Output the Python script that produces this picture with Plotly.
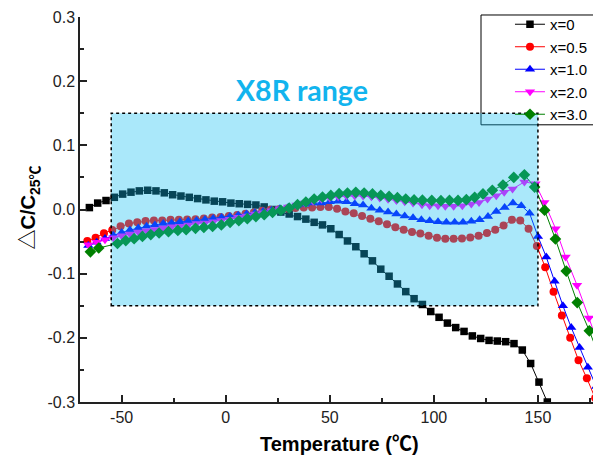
import plotly.graph_objects as go

# ---------------- data ----------------
temp_x0 = [-65.5, -61.5, -57.5, -53.5, -49.5, -45.5, -41.5, -37.5, -33.5, -29.5,
           -25.5, -21.5, -17.5, -13.5, -9.5, -5.5, -1.5, 2.5, 6.5, 10.5,
           14.5, 18.5, 22.5, 26.5, 30.5, 34.5, 38.5, 42.5, 46.5, 50.5,
           54.5, 58.5, 62.5, 66.5, 70.5, 74.5, 78.5, 82.5, 86.5, 90.5,
           94.5, 98.5, 102.5, 106.5, 110.5, 114.5, 118.5, 122.5, 126.5, 130.5,
           134.5, 138.5, 142.5, 146.5, 150.5, 154.5]
dc_x0 = [0.003, 0.010, 0.014, 0.019, 0.024, 0.027, 0.029, 0.030, 0.029, 0.026,
         0.023, 0.021, 0.019, 0.017, 0.015, 0.013, 0.012, 0.010, 0.009, 0.008,
         0.007, 0.004, 0.000, -0.004, -0.007, -0.011, -0.015, -0.020, -0.024, -0.030,
         -0.039, -0.049, -0.058, -0.069, -0.080, -0.093, -0.104, -0.116, -0.128, -0.139,
         -0.148, -0.159, -0.168, -0.177, -0.184, -0.190, -0.197, -0.201, -0.204, -0.205,
         -0.206, -0.209, -0.219, -0.240, -0.269, -0.300]

temp_x05 = [-66.5, -62.5, -58.5, -54.5, -50.5, -46.5, -42.5, -38.5, -34.5, -30.5,
            -26.5, -22.5, -18.5, -14.5, -10.5, -6.5, -2.5, 1.5, 5.5, 9.5,
            13.5, 17.5, 21.5, 25.5, 29.5, 33.5, 37.5, 41.5, 45.5, 49.5,
            53.5, 57.5, 61.5, 65.5, 69.5, 73.5, 77.5, 81.5, 85.5, 89.5,
            93.5, 97.5, 101.5, 105.5, 109.5, 113.5, 117.5, 121.5, 125.5, 129.5,
            133.5, 137.5, 141.5, 145.5, 149.5, 153.5, 157.5, 161.5, 165.5, 169.5,
            173.5, 177.5]
dc_x05 = [-0.049, -0.044, -0.037, -0.032, -0.026, -0.022, -0.020, -0.018, -0.017, -0.017,
          -0.016, -0.016, -0.0155, -0.015, -0.014, -0.0125, -0.0115, -0.010, -0.0085, -0.0065,
          -0.0045, -0.002, -0.0005, 0.0005, 0.0015, 0.0025, 0.003, 0.003, 0.004, 0.004,
          0.001, -0.003, -0.006, -0.010, -0.0145, -0.0185, -0.023, -0.0275, -0.0315, -0.035,
          -0.0375, -0.041, -0.044, -0.0455, -0.0455, -0.045, -0.0435, -0.041, -0.0366, -0.0315,
          -0.025, -0.016, -0.017, -0.030, -0.057, -0.090, -0.128, -0.165, -0.200, -0.235,
          -0.263, -0.294]

temp_x10 = [-66, -62, -58, -54, -50, -46, -42, -38, -34, -30,
            -26, -22, -18, -14, -10, -6, -2, 2, 6, 10,
            14, 18, 22, 26, 30, 34, 38, 42, 46, 50,
            54, 58, 62, 66, 70, 74, 78, 82, 86, 90,
            94, 98, 102, 106, 110, 114, 118, 122, 126, 130,
            134, 138, 142, 146, 150, 154, 158, 162, 166, 170,
            174, 178]
dc_x10 = [-0.056, -0.051, -0.045, -0.040, -0.036, -0.032, -0.029, -0.026, -0.024, -0.022,
          -0.021, -0.019, -0.018, -0.017, -0.0155, -0.014, -0.0125, -0.011, -0.009, -0.007,
          -0.005, -0.003, -0.001, 0.001, 0.003, 0.006, 0.008, 0.010, 0.010, 0.012,
          0.013, 0.012, 0.009, 0.007, 0.002, -0.001, -0.004, -0.007, -0.010, -0.013,
          -0.016, -0.0175, -0.019, -0.020, -0.020, -0.020, -0.0185, -0.016, -0.011, -0.003,
          0.003, 0.010, 0.006, -0.006, -0.042, -0.074, -0.112, -0.150, -0.184, -0.215,
          -0.246, -0.276]

temp_x20 = [-66, -62, -58, -54, -50, -46, -42, -38, -34, -30,
            -26, -22, -18, -14, -10, -6, -2, 2, 6, 10,
            14, 18, 22, 26, 30, 34, 38, 42, 46, 50,
            54, 58, 62, 66, 70, 74, 78, 82, 86, 90,
            94.3, 98, 102, 105.5, 109.5, 113.7, 118, 121.7, 125.8, 130,
            133.8, 137.8, 143.5, 148.8, 153.1, 158.5, 163.3, 168.8, 174.5, 179.3]
dc_x20 = [-0.055, -0.051, -0.047, -0.044, -0.041, -0.038, -0.035, -0.033, -0.031, -0.029,
          -0.027, -0.026, -0.024, -0.022, -0.021, -0.019, -0.017, -0.015, -0.012, -0.010,
          -0.007, -0.005, -0.002, 0.001, 0.004, 0.007, 0.010, 0.013, 0.016, 0.018,
          0.020, 0.021, 0.021, 0.021, 0.020, 0.018, 0.016, 0.014, 0.012, 0.010,
          0.0075, 0.006, 0.006, 0.005, 0.005, 0.006, 0.0086, 0.011, 0.0164, 0.0215,
          0.0267, 0.032, 0.043, 0.040, 0.011, -0.030, -0.074, -0.118, -0.169, -0.213]

temp_x30 = [-65, -61, -52, -48, -44, -40, -36, -32, -27.5, -23,
            -19, -14.5, -10.5, -6.3, -2.1, 2.1, 6.3, 10.4, 14.5, 18.5,
            22.5, 26.5, 30.5, 34.5, 38.5, 42.5, 46.5, 50.5, 54.5, 58.5,
            62.5, 66.5, 70.5, 74.5, 78.5, 82.5, 86.5, 90.5, 94.5, 99,
            103.4, 107.5, 111.6, 115.6, 119.6, 123.6, 128.1, 133.2, 138.4, 143.5,
            148.4, 153.2, 158.4, 163.6, 168.9, 174.7, 179.4]
dc_x30 = [-0.066, -0.060, -0.053, -0.0485, -0.0455, -0.042, -0.039, -0.0366, -0.0346, -0.0326,
          -0.0315, -0.0294, -0.028, -0.0263, -0.024, -0.020, -0.0175, -0.0143, -0.011, -0.008,
          -0.0045, -0.0014, 0.0023, 0.0075, 0.0117, 0.0164, 0.0195, 0.022, 0.0246, 0.0257,
          0.0267, 0.0257, 0.0242, 0.022, 0.0204, 0.0184, 0.0164, 0.015, 0.0145, 0.0142,
          0.0137, 0.0142, 0.0142, 0.0153, 0.019, 0.0242, 0.030, 0.038, 0.050, 0.054,
          0.035, -0.001, -0.046, -0.096, -0.145, -0.189, -0.229]

series_names = ["x=0", "x=0.5", "x=1.0", "x=2.0", "x=3.0"]

x_tickvals = [-50, 0, 50, 100, 150]
x_ticktext = ["-50", "0", "50", "100", "150"]
y_tickvals = [-0.3, -0.2, -0.1, 0.0, 0.1, 0.2, 0.3]
y_ticktext = ["-0.3", "-0.2", "-0.1", "0.0", "0.1", "0.2", "0.3"]

range_x = [-55, 150]
range_y = [-0.15, 0.15]

# ---------------- figure ----------------
FONT = "Arial, Liberation Sans, Noto Sans CJK SC, sans-serif"

styles = [
    ("#000000", "square", 7.5),
    ("#FF0000", "circle", 8),
    ("#0000FF", "triangle-up", 9),
    ("#FF00FF", "triangle-down", 9),
    ("#008000", "diamond", 9),
]
xs = [temp_x0, temp_x05, temp_x10, temp_x20, temp_x30]
ys = [dc_x0, dc_x05, dc_x10, dc_x20, dc_x30]

fig = go.Figure()
for name, x, y, (col, sym, sz) in zip(series_names, xs, ys, styles):
    fig.add_trace(go.Scatter(
        x=x, y=y, name=name, mode="lines+markers",
        line=dict(color=col, width=1),
        marker=dict(symbol=sym, size=sz, color=col, line=dict(width=0)),
    ))

# X8R window
fig.add_shape(type="rect", xref="x", yref="y",
              x0=range_x[0], x1=range_x[1], y0=range_y[0], y1=range_y[1],
              fillcolor="rgba(20,190,240,0.36)",
              line=dict(color="black", width=1.5, dash="dot"),
              layer="above")

# legend frame
fig.add_shape(type="rect", xref="paper", yref="paper",
              x0=0.7697, x1=1.1, y0=0.72, y1=1.0052,
              fillcolor="white", line=dict(color="black", width=1), layer="below")

fig.add_annotation(x=36.5, y=0.187, xref="x", yref="y", text="<b>X8R range</b>",
                   showarrow=False, xanchor="center", yanchor="middle",
                   font=dict(family="Lato, Arial", size=28.5, color="#12B4EE"))

fig.add_annotation(x=0.499, y=-0.108, xref="paper", yref="paper",
                   text="<b>Temperature (℃)</b>", showarrow=False,
                   xanchor="center", yanchor="middle",
                   font=dict(family=FONT, size=20, color="black"))
fig.add_annotation(x=-0.096, y=0.505, xref="paper", yref="paper",
                   text="△<b>C/C<sub>25℃</sub></b>", showarrow=False, textangle=-90,
                   xanchor="center", yanchor="middle",
                   font=dict(family=FONT, size=20, color="black"))

axis_common = dict(showline=True, linecolor="#222", linewidth=1.5, ticks="inside",
                   ticklen=7, tickwidth=1.5, tickcolor="#222", showgrid=False,
                   zeroline=False, tickfont=dict(family=FONT, size=16, color="#222"))

fig.update_xaxes(range=[-70, 180.3], tickmode="array", tickvals=x_tickvals,
                 ticktext=x_ticktext,
                 minor=dict(tickvals=[-25, 25, 75, 125, 175], ticks="inside", ticklen=4,
                            tickwidth=1.5, tickcolor="#222"),
                 **axis_common)
fig.update_yaxes(range=[-0.3, 0.3], tickmode="array", tickvals=y_tickvals,
                 ticktext=y_ticktext,
                 minor=dict(tickvals=[-0.25, -0.15, -0.05, 0.05, 0.15, 0.25], ticks="inside",
                            ticklen=4, tickwidth=1.5, tickcolor="#222"),
                 **axis_common)

# page body has an 8px margin, so the figure is 8px smaller than the window
fig.update_layout(
    width=593, height=449,
    margin=dict(l=72, r=0, t=9, b=55, autoexpand=False),
    paper_bgcolor="white", plot_bgcolor="white",
    showlegend=True,
    legend=dict(x=0.8253, xanchor="left", y=1.0234, yanchor="top",
                borderwidth=0, bgcolor="rgba(0,0,0,0)",
                font=dict(family=FONT, size=15, color="black"),
                tracegroupgap=0),
    font=dict(family=FONT),
)

fig.write_html("out.html")
